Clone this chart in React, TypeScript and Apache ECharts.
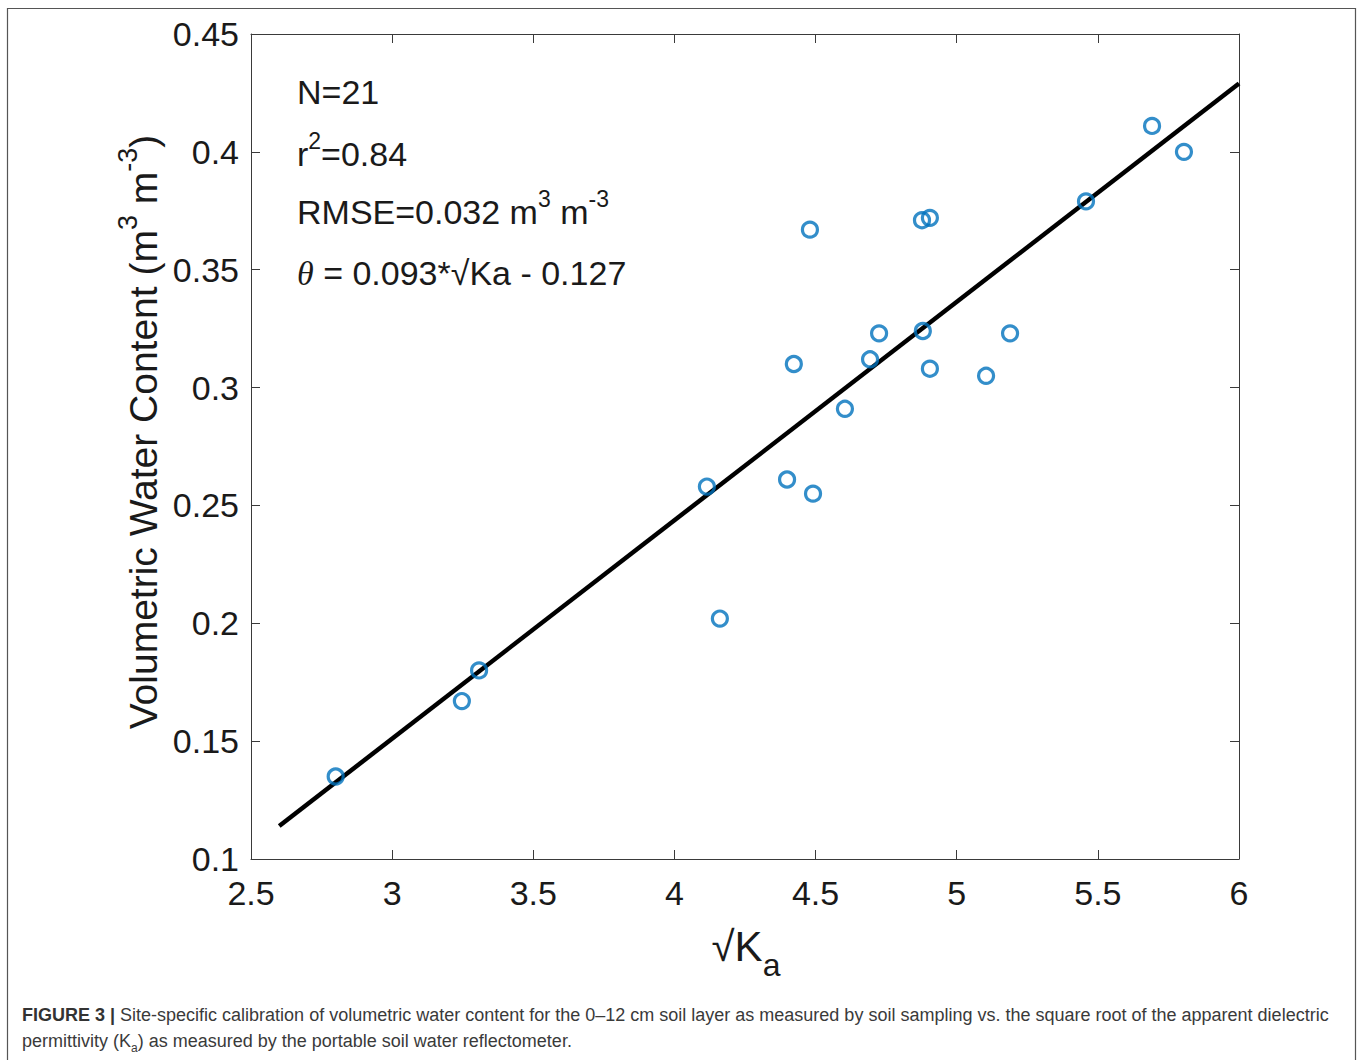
import React, { useEffect, useRef } from "react";
import * as echarts from "echarts";

const sqrtKa = [2.8, 3.247, 3.308, 4.115, 4.161, 4.399, 4.491, 4.423, 4.48, 4.604, 4.693, 4.725, 4.877, 4.905, 4.88, 4.905, 5.104, 5.189, 5.458, 5.692, 5.805];
const vwc = [0.135, 0.167, 0.18, 0.258, 0.202, 0.261, 0.255, 0.31, 0.367, 0.291, 0.312, 0.323, 0.371, 0.372, 0.324, 0.308, 0.305, 0.323, 0.379, 0.411, 0.4];
const fitX = [2.6, 6.0];
const fitY = [0.114, 0.429];
const xTickLabels = ["2.5", "3", "3.5", "4", "4.5", "5", "5.5", "6"];
const yTickLabels = ["0.1", "0.15", "0.2", "0.25", "0.3", "0.35", "0.4", "0.45"];

const SANS = "'Liberation Sans', Arial, Helvetica, sans-serif";
const AXIS_COLOR = "#3a3a3a";
const TEXT_COLOR = "#1a1a1a";

export default function App() {
  const ref = useRef<HTMLDivElement>(null);
  useEffect(() => {
    if (!ref.current) return;
    const chart = echarts.init(ref.current, undefined, { renderer: "svg" });
    const points = sqrtKa.map((x, i) => [x, vwc[i]]);
    const fit = fitX.map((x, i) => [x, fitY[i]]);
    const fmtX = (v: number) => {
      const i = Math.round((v - 2.5) / 0.5);
      return xTickLabels[i] ?? "";
    };
    const fmtY = (v: number) => {
      const i = Math.round((v - 0.1) / 0.05);
      return yTickLabels[i] ?? "";
    };
    const axisCommon = {
      axisLine: { show: true, onZero: false, lineStyle: { color: AXIS_COLOR, width: 1 } },
      axisTick: { show: true, inside: true, length: 9, lineStyle: { color: AXIS_COLOR, width: 1 } },
      splitLine: { show: false },
    };
    chart.setOption({
      animation: false,
      backgroundColor: "#ffffff",
      grid: { left: 251, right: 119, top: 34, bottom: 201, containLabel: false },
      xAxis: [
        {
          type: "value",
          min: 2.5,
          max: 6,
          interval: 0.5,
          position: "bottom",
          ...axisCommon,
          axisLabel: { formatter: fmtX, fontFamily: SANS, fontSize: 34, color: TEXT_COLOR, margin: 17 },
        },
        {
          type: "value",
          min: 2.5,
          max: 6,
          interval: 0.5,
          position: "top",
          ...axisCommon,
          axisLabel: { show: false },
        },
      ],
      yAxis: [
        {
          type: "value",
          min: 0.1,
          max: 0.45,
          interval: 0.05,
          position: "left",
          ...axisCommon,
          axisLabel: { formatter: fmtY, fontFamily: SANS, fontSize: 34, color: TEXT_COLOR, margin: 12 },
        },
        {
          type: "value",
          min: 0.1,
          max: 0.45,
          interval: 0.05,
          position: "right",
          ...axisCommon,
          axisLabel: { show: false },
        },
      ],
      series: [
        {
          type: "line",
          data: fit,
          showSymbol: false,
          symbol: "none",
          lineStyle: { color: "#000000", width: 4.5 },
          z: 2,
        },
        {
          type: "scatter",
          data: points,
          symbol: "circle",
          symbolSize: 15,
          itemStyle: { color: "rgba(255,255,255,0)", borderColor: "#0072BD", borderWidth: 3.2 },
          z: 3,
        },
      ],
      graphic: [
        {
          type: "rect",
          shape: { x: 7.5, y: 8.5, width: 1348, height: 1100 },
          style: { fill: "none", stroke: "#555555", lineWidth: 1.2 },
          silent: true,
        },
        {
          type: "text",
          x: 297,
          y: 92,
          style: { text: "N=21", font: `34px ${SANS}`, fill: TEXT_COLOR, verticalAlign: "middle", align: "left" },
        },
        {
          type: "text",
          x: 297,
          y: 154,
          style: {
            text: "r{sup|2}=0.84",
            font: `34px ${SANS}`,
            fill: TEXT_COLOR,
            verticalAlign: "middle",
            align: "left",
            rich: {
              sup: { fontSize: 23, fontFamily: SANS, fill: TEXT_COLOR, verticalAlign: "top", lineHeight: 50 },
            },
          },
        },
        {
          type: "text",
          x: 297,
          y: 212,
          style: {
            text: "RMSE=0.032 m{sup|3} m{sup|-3}",
            font: `34px ${SANS}`,
            fill: TEXT_COLOR,
            verticalAlign: "middle",
            align: "left",
            rich: {
              sup: { fontSize: 23, fontFamily: SANS, fill: TEXT_COLOR, verticalAlign: "top", lineHeight: 50 },
            },
          },
        },
        {
          type: "text",
          x: 297,
          y: 273,
          style: {
            text: "{th|θ} = 0.093*√Ka - 0.127",
            font: `34px ${SANS}`,
            fill: TEXT_COLOR,
            verticalAlign: "middle",
            align: "left",
            rich: {
              th: { fontSize: 34, fontFamily: "'Liberation Serif', 'DejaVu Serif', serif", fontStyle: "italic", fill: TEXT_COLOR },
            },
          },
        },
        {
          type: "text",
          x: 143,
          y: 432,
          rotation: Math.PI / 2,
          style: {
            text: "Volumetric Water Content (m{sup|3} m{sup|-3})",
            font: `39px ${SANS}`,
            fill: TEXT_COLOR,
            verticalAlign: "middle",
            align: "center",
            rich: {
              sup: { fontSize: 27, fontFamily: SANS, fill: TEXT_COLOR, verticalAlign: "top", lineHeight: 58 },
            },
          },
        },
        {
          type: "text",
          x: 746,
          y: 946,
          style: {
            text: "√K{sub|a}",
            font: `42px ${SANS}`,
            fill: TEXT_COLOR,
            verticalAlign: "middle",
            align: "center",
            rich: {
              sub: { fontSize: 32, fontFamily: SANS, fill: TEXT_COLOR, verticalAlign: "bottom", lineHeight: 70 },
            },
          },
        },
        {
          type: "text",
          x: 22,
          y: 1015,
          style: {
            text: "{b|FIGURE 3 |} Site-specific calibration of volumetric water content for the 0–12 cm soil layer as measured by soil sampling vs. the square root of the apparent dielectric",
            font: `18px ${SANS}`,
            fill: "#3a3a3a",
            verticalAlign: "middle",
            align: "left",
            rich: {
              b: { fontSize: 18, fontFamily: SANS, fontWeight: "bold", fill: "#333333" },
            },
          },
        },
        {
          type: "text",
          x: 22,
          y: 1041,
          style: {
            text: "permittivity (K{s|a}) as measured by the portable soil water reflectometer.",
            font: `18px ${SANS}`,
            fill: "#3a3a3a",
            verticalAlign: "middle",
            align: "left",
            rich: {
              s: { fontSize: 12, fontFamily: SANS, fill: "#3a3a3a", verticalAlign: "bottom", lineHeight: 26 },
            },
          },
        },
      ],
    });
    return () => chart.dispose();
  }, []);
  return (
    <div
      ref={ref}
      style={{ position: "absolute", left: 0, top: 0, width: 1358, height: 1060, background: "#fff" }}
    />
  );
}
